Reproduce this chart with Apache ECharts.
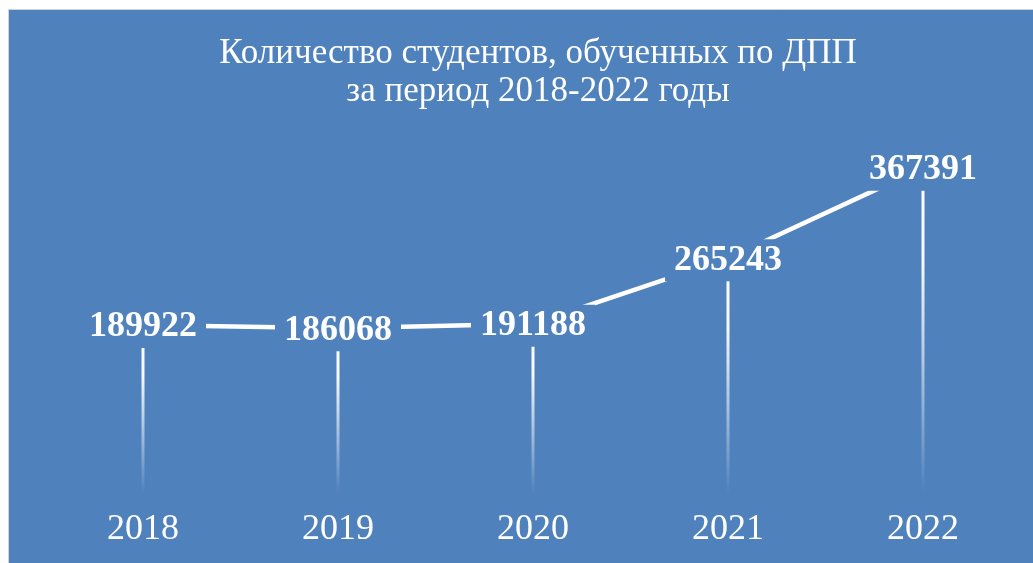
<!DOCTYPE html>
<html>
<head>
<meta charset="utf-8">
<script src="https://cdn.jsdelivr.net/npm/echarts@6/dist/echarts.min.js"></script>
<style>
html,body{margin:0;padding:0;background:#fff;}
#chart{width:1033px;height:563px;}
</style>
</head>
<body>
<div id="chart"></div>
<script>
const categories = ['2018', '2019', '2020', '2021', '2022'];
const students = [189922, 186068, 191188, 265243, 367391];
const titleText = 'Количество студентов, обученных по ДПП\nза период 2018-2022 годы';

const BG = '#4F81BD';
const chart = echarts.init(document.getElementById('chart'), null, {renderer: 'canvas'});
chart.setOption({
  backgroundColor: '#ffffff',
  animation: false,
  graphic: [{
    type: 'rect',
    z: -10,
    silent: true,
    shape: {x: 8.5, y: 9.5, width: 1030, height: 560},
    style: {fill: BG, stroke: '#D0D4DA', lineWidth: 1}
  }],
  title: {
    text: titleText,
    left: 533,
    top: 30,
    textAlign: 'center',
    textStyle: {
      color: '#ffffff',
      fontFamily: 'Liberation Serif',
      fontWeight: 'normal',
      fontSize: 35,
      lineHeight: 38
    }
  },
  grid: {left: 45.5, right: 12.5, top: 139, bottom: 70, containLabel: false},
  xAxis: {
    type: 'category',
    data: categories,
    axisLine: {show: false},
    axisTick: {show: false},
    splitLine: {show: false},
    axisLabel: {
      color: '#ffffff',
      fontFamily: 'Liberation Serif',
      fontSize: 36,
      margin: 19
    }
  },
  yAxis: {
    type: 'value',
    min: 0,
    max: 400000,
    show: false,
    splitLine: {show: false}
  },
  series: [
    {
      type: 'bar',
      data: students,
      barWidth: 3,
      z: 2,
      silent: true,
      itemStyle: {
        color: {
          type: 'linear', x: 0, y: 0, x2: 0, y2: 1,
          colorStops: [
            {offset: 0, color: 'rgba(255,255,255,1)'},
            {offset: 0.3, color: 'rgba(255,255,255,0.95)'},
            {offset: 0.75, color: 'rgba(255,255,255,0.35)'},
            {offset: 1, color: 'rgba(255,255,255,0)'}
          ]
        }
      }
    },
    {
      type: 'line',
      data: students,
      z: 3,
      symbol: 'circle',
      symbolSize: 2,
      itemStyle: {color: '#ffffff'},
      lineStyle: {color: '#ffffff', width: 4.5},
      label: {
        show: true,
        position: 'inside',
        offset: [0, 2],
        color: '#ffffff',
        fontFamily: 'Liberation Serif',
        fontWeight: 'bold',
        fontSize: 36,
        lineHeight: 36,
        backgroundColor: BG,
        padding: [3, 9, 3, 9]
      }
    }
  ]
});
</script>
</body>
</html>
